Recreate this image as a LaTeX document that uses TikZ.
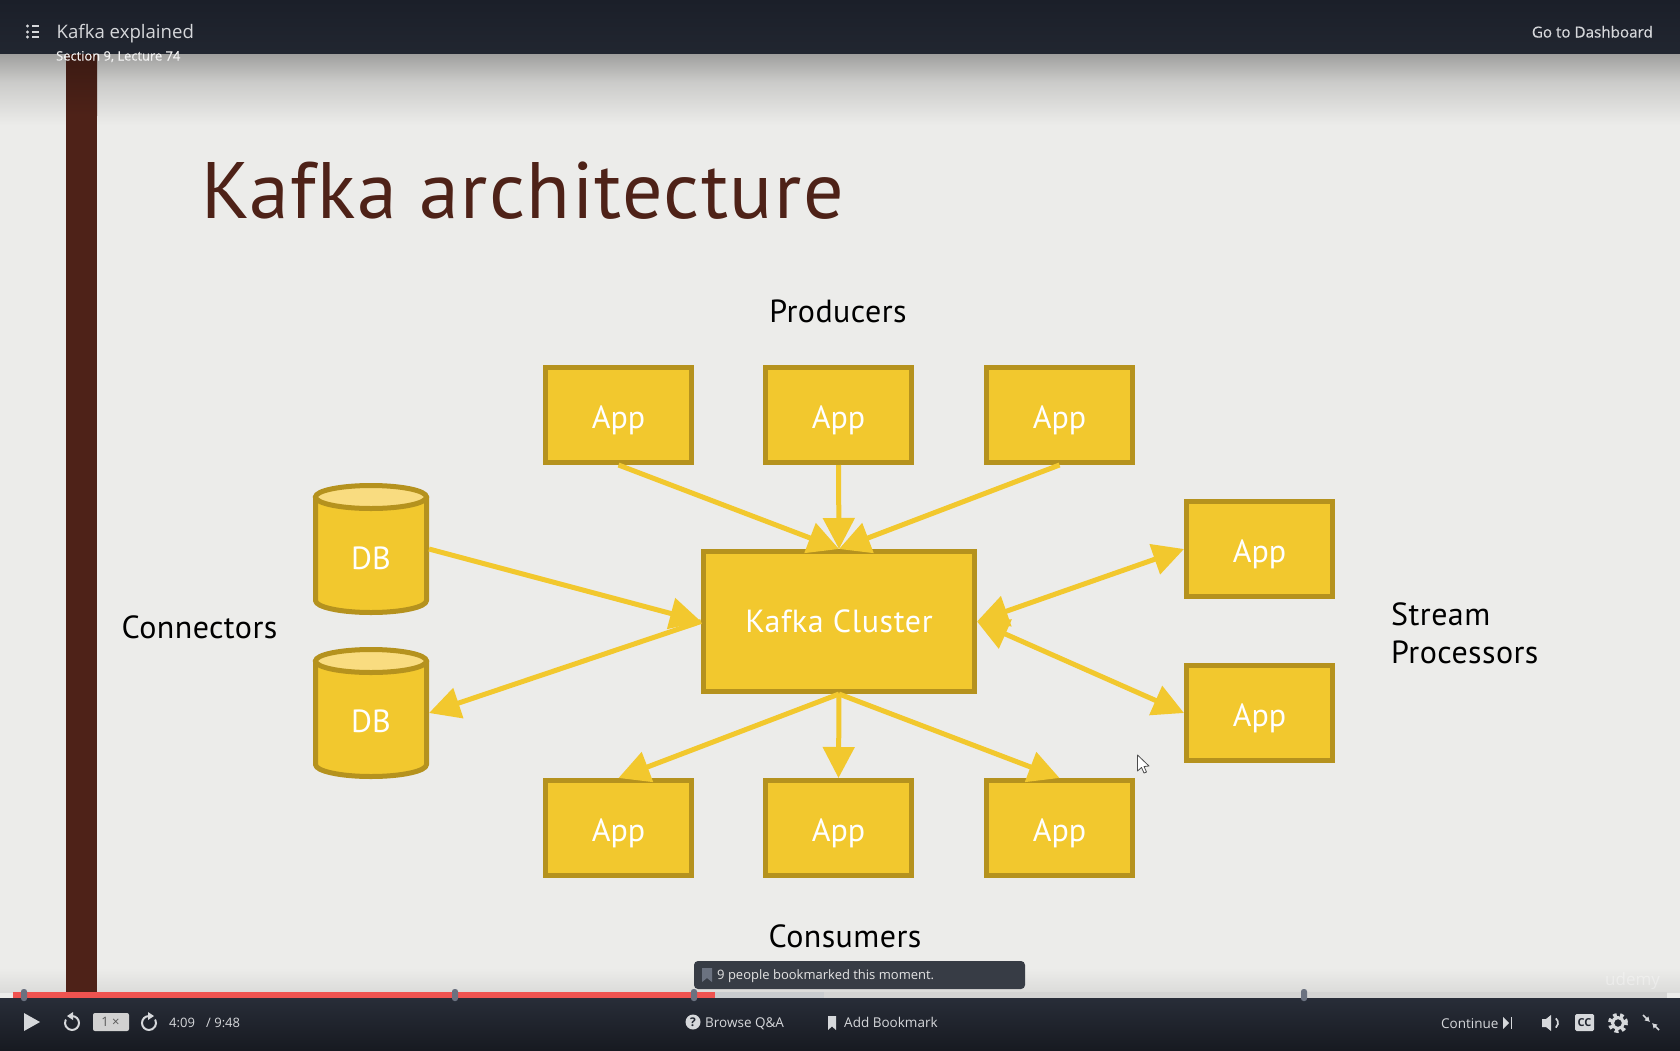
\documentclass[tikz,border=0pt]{standalone}
\usepackage{fontspec}
\setmainfont{PT Sans}
\newfontfamily\uifont{Open Sans}
\newfontfamily\uifontb[FakeBold=0.35]{Open Sans}
\usetikzlibrary{arrows.meta}
\definecolor{slidebg}{HTML}{ECECEA}
\definecolor{barbrown}{HTML}{4E2218}
\definecolor{gold}{HTML}{F2C82E}
\definecolor{goldedge}{HTML}{B5921E}
\definecolor{goldtop}{HTML}{F9DC80}
\definecolor{navytop}{HTML}{1B1F29}
\definecolor{navymid}{HTML}{212630}
\definecolor{foottop}{HTML}{282D38}
\definecolor{footbot}{HTML}{171A21}
\definecolor{uitext}{HTML}{D6D8DB}
\definecolor{marker}{HTML}{6B7280}
\definecolor{redbar}{HTML}{EF5350}
\definecolor{buffered}{HTML}{C9CCCF}
\newcommand{\fs}[1]{\fontsize{#1}{#1}\selectfont}
\newcommand{\spaced}[1]{\addfontfeature{LetterSpace=#1}}
\newcommand{\dbshape}[1]{%
  \begin{scope}[shift={(#1.center)}]
    \filldraw[draw=goldedge,fill=gold,line width=5pt,line join=round]
      (-55.5,-52) -- (-55.5,51.5) arc[start angle=180,end angle=0,x radius=55.5,y radius=12] -- (55.5,-52) -- cycle;
    \filldraw[draw=goldedge,fill=goldtop,line width=5pt] (0,-52) ellipse[x radius=55.5,y radius=11.5];
  \end{scope}}
\tikzset{
  appbox/.style={draw=goldedge,fill=gold,line width=5pt,minimum width=146pt,minimum height=95pt,inner sep=0pt,text=white,font=\fs{32},text height=27pt,text depth=0pt},
  clusterbox/.style={appbox,minimum width=271pt,minimum height=140pt,font=\fs{32}\spaced{2},text height=21pt},
  dbframe/.style={minimum width=116pt,minimum height=132pt,inner sep=0pt,outer sep=0pt},
  dblabel/.style={text=white,font=\fs{32},inner sep=0pt},
  flow/.style={draw=gold,fill=gold,line width=5pt,-{Triangle[length=31pt,width=31pt]}},
  flowboth/.style={draw=gold,fill=gold,line width=5pt,{Triangle[length=31pt,width=31pt]}-{Triangle[length=31pt,width=31pt]}},
  lbl/.style={text=black,font=\fs{32}\spaced{1.4},inner sep=0pt},
  ui/.style={text=uitext,inner sep=0pt,anchor=base west},
  markertick/.style={fill=marker,rounded corners=2.5pt},
  iconline/.style={draw=uitext,line width=2pt,line cap=round},
}
\begin{document}
\begin{tikzpicture}[x=1pt,y=-1pt]
\useasboundingbox (0,0) rectangle (1680,1050);
% slide
\fill[slidebg] (0,53) rectangle (1680,998);
\shade[top color=black!33!slidebg,bottom color=black!14!slidebg] (0,53) rectangle (1680,82);
\shade[top color=black!14!slidebg,bottom color=slidebg] (0,82) rectangle (1680,125);
\shade[top color=slidebg,bottom color=black!7!slidebg] (0,968) rectangle (1680,992);
\fill[barbrown] (66,53) rectangle (97,992);
\shade[top color=barbrown!75!black,bottom color=barbrown] (66,53) rectangle (97,115);
% title
\node[anchor=base west,inner sep=0pt,text=barbrown,font=\fs{80}\spaced{1.8}] (title) at (201,218) {Kafka architecture};
% nodes
\node[appbox] (p1) at (618.5,415) {App};
\node[appbox] (p2) at (838.5,415) {App};
\node[appbox] (p3) at (1059.5,415) {App};
\node[appbox] (c1) at (618.5,828) {App};
\node[appbox] (c2) at (838.5,828) {App};
\node[appbox] (c3) at (1059.5,828) {App};
\node[appbox] (s1) at (1259.5,549) {App};
\node[appbox] (s2) at (1259.5,713) {App};
\node[clusterbox] (k) at (839,621.5) {Kafka Cluster};
\node[dbframe] (d1) at (371,549) {};
\node[dbframe] (d2) at (371,713) {};
\dbshape{d1}
\dbshape{d2}
\node[dblabel] (d1t) at (371,558) {DB};
\node[dblabel] (d2t) at (371,721) {DB};
% labels
\node[lbl] (lp) at (838,311) {Producers};
\node[lbl] (lc) at (845,936) {Consumers};
\node[lbl] (lk) at (199.5,627) {Connectors};
\node[lbl,anchor=west] (ls1) at (1391,614) {Stream};
\node[lbl,anchor=west] (ls2) at (1391,652) {Processors};
% connectors
\coordinate (kn) at (k.north);
\coordinate (ks) at (k.south);
\draw[flow] (p1.south) -- (kn);
\draw[flow] (p3.south) -- (kn);
\draw[flow] (p2.south) -- (kn);
\draw[flow] (d1.east) -- (k.west);
\draw[flow] (k.west) -- (d2.east);
\draw[flow] (ks) -- (c1.north);
\draw[flow] (ks) -- (c2.north);
\draw[flow] (ks) -- (c3.north);
\draw[flowboth] (k.east) -- (s1.west);
\draw[flowboth] (k.east) -- (s2.west);
% cursor
\draw[fill=white,draw=black!70,line width=.8pt,line join=round] (1137.5,755) -- (1137.5,771) -- (1141.5,767.5) -- (1144,773) -- (1146.5,772) -- (1144,766.5) -- (1149,766) -- cycle;
% watermark
\node[anchor=base west,inner sep=0pt,text=white,opacity=.35,font=\uifont\fs{17}] (wm) at (1605,985) {udemy};
% header
\shade[top color=navytop,bottom color=navymid] (0,0) rectangle (1680,53);
\foreach \yy in {26,32,37}{
  \fill[uitext] (27.5,\yy) circle (1.6pt);
  \draw[uitext,line width=1.5pt] (32,\yy) -- (39,\yy);
}
\node[ui,font=\uifont\fs{18.6}] (ht) at (56.5,38) {Kafka explained};
\node[ui,text=white!95!black,font=\uifontb\fs{12.9}] (hs) at (56,60.5) {Section 9, Lecture 74};
\node[ui,font=\uifontb\fs{15.2},anchor=base east] (hd) at (1653,37.5) {Go to Dashboard};
% footer
\shade[top color=foottop,bottom color=footbot] (0,998) rectangle (1680,1050);
\fill[black!10!slidebg] (13,992) rectangle (1667,998);
\fill[buffered] (715,992) rectangle (824,998);
\fill[redbar] (13,992) rectangle (715,998);
\foreach \xx in {24,455,694,1304}{
  \fill[markertick] (\xx-3,989) rectangle (\xx+3,1001);
}
% tooltip
\fill[rounded corners=4pt,fill=navymid!90!white] (694,961) rectangle (1025,989);
\fill[marker] (702,968) -- (712,968) -- (712,982) -- (707,978) -- (702,982) -- cycle;
\node[ui,text=white!90!black,font=\uifont\fs{13}] (tt) at (717,979.5) {9 people bookmarked this moment.};
% controls
\fill[uitext] (24,1013) -- (40,1022) -- (24,1031) -- cycle;
\draw[iconline] (72,1023) ++(-90:7) arc[start angle=-90,end angle=205,radius=7];
\fill[uitext] (67,1016) -- (73,1012) -- (73,1020) -- cycle;
\fill[rounded corners=2pt,fill=black!18] (93,1013) rectangle (129,1031);
\node[inner sep=0pt,text=black!65,font=\uifont\fs{13}] (sp) at (110.5,1022) {1 ×};
\draw[iconline] (149,1023) ++(-90:7) arc[start angle=270,end angle=-25,radius=7];
\fill[uitext] (154,1016) -- (148,1012) -- (148,1020) -- cycle;
\node[ui,font=\uifont\fs{13}] (t1) at (169,1027) {4:09};
\node[ui,font=\uifont\fs{13}] (t2) at (206,1027) {/ 9:48};
\fill[uitext] (693,1022) circle (7.5pt);
\node[inner sep=0pt,text=navymid,font=\uifont\bfseries\fs{12}] (qm) at (693,1022) {?};
\node[ui,font=\uifont\fs{13.5}] (bq) at (705,1027) {Browse Q\&A};
\fill[uitext] (828,1016) -- (836,1016) -- (836,1030) -- (832,1026.5) -- (828,1030) -- cycle;
\node[ui,font=\uifont\fs{13.5}] (ab) at (844,1027) {Add Bookmark};
\node[ui,font=\uifont\fs{13.5}] (ct) at (1441,1028) {Continue};
\fill[uitext] (1503,1017) -- (1509,1023) -- (1503,1029) -- cycle;
\draw[uitext,line width=1pt] (1511,1017) -- (1511,1029);
% volume
\fill[uitext] (1542,1019) -- (1546,1019) -- (1551,1015) -- (1551,1031) -- (1546,1027) -- (1542,1027) -- cycle;
\draw[uitext,line width=1.7pt] (1552,1023) ++(-50:6) arc[start angle=-50,end angle=50,radius=6];
% CC
\fill[rounded corners=1.5pt,fill=uitext] (1575,1014) rectangle (1594,1031);
\node[inner sep=0pt,text=navymid,font=\uifont\bfseries\fs{11}] (cc) at (1584.5,1022.5) {CC};
% gear
\draw[uitext,line width=3pt] (1618,1023) circle (5.5pt);
\draw[uitext,line width=4pt,dash pattern=on 3.6pt off 3.25pt] (1618,1023) circle (8pt);
% collapse
\draw[draw=uitext,line width=1.6pt,-{Latex[length=5pt,width=6pt]}] (1643,1015) -- (1650,1022);
\draw[draw=uitext,line width=1.6pt,-{Latex[length=5pt,width=6pt]}] (1659,1030) -- (1652,1023);
\end{tikzpicture}
\end{document}
